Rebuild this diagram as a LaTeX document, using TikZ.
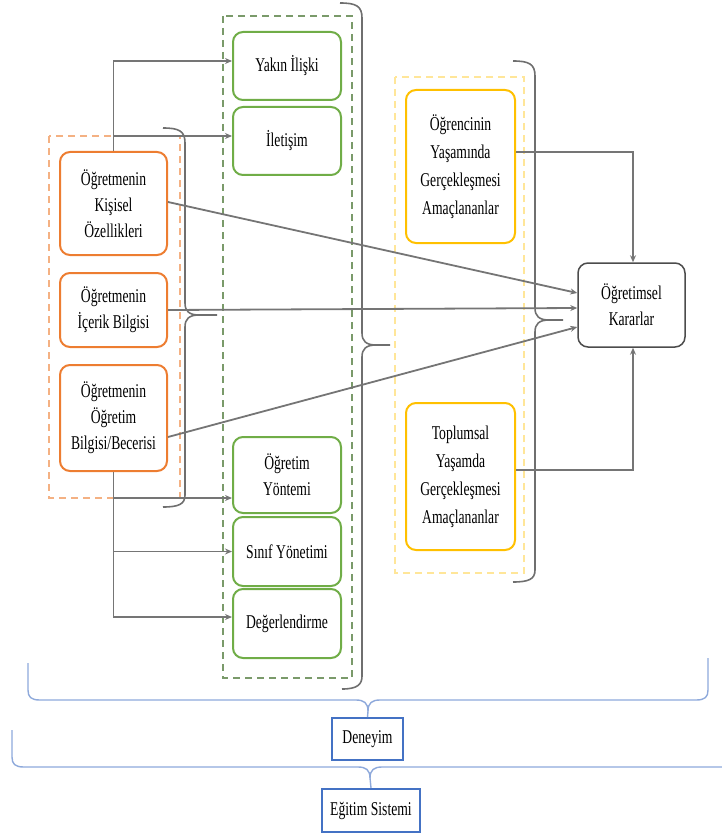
\documentclass[tikz,border=0pt]{standalone}
\usepackage{fontspec}
\setmainfont{Liberation Serif}[FakeStretch=0.7]
\usetikzlibrary{arrows.meta}
\definecolor{corange}{HTML}{ED7D31}
\definecolor{cgreen}{HTML}{70AD47}
\definecolor{cyellow}{HTML}{FFC000}
\definecolor{dorange}{HTML}{F4B183}
\definecolor{dgreen}{HTML}{7A9A6A}
\definecolor{dyellow}{HTML}{FFE699}
\definecolor{lgray}{HTML}{757575}
\definecolor{bgray}{HTML}{6F6F6F}
\definecolor{bblue}{HTML}{8EA9DB}
\definecolor{cblue}{HTML}{4472C4}
\begin{document}
\begin{tikzpicture}[x=1pt,y=-1pt,
  font=\fontsize{19.5}{26}\selectfont,
  box/.style={draw, rounded corners=10pt, line width=2pt, fill=white, align=center, inner sep=0pt},
  obox/.style={box, draw=corange, minimum width=107pt},
  gbox/.style={box, draw=cgreen, minimum width=108pt},
  ybox/.style={box, draw=cyellow, minimum width=109pt, font=\fontsize{19.5}{28}\selectfont},
  kbox/.style={box, draw=black!70, line width=1.5pt, minimum width=107pt, minimum height=84pt},
  sbox/.style={draw=cblue, line width=2pt, fill=white, inner sep=0pt},
  dbox/.style={line width=1.5pt, dash pattern=on 7pt off 5pt},
  arr/.style={draw=lgray, line width=1.8pt, -{Stealth[length=7pt,width=6pt]}},
  brace/.style={draw=bgray, line width=1.6pt},
  bbrace/.style={draw=bblue, line width=1.4pt}]
\useasboundingbox (0,0) rectangle (722,837);

% dashed groups
\draw[dbox, draw=dorange] (49,136) rectangle (180,498);
\draw[dbox, draw=dgreen] (223,16) rectangle (352,678);
\draw[dbox, draw=dyellow] (395,77) rectangle (524,573);

% orange nodes
\node[obox, minimum height=103pt] (ok) at (113.5,203.5) {Öğretmenin\\Kişisel\\Özellikleri};
\node[obox, minimum height=74pt] (oi) at (113.5,310) {Öğretmenin\\İçerik Bilgisi};
\node[obox, minimum height=106pt] (ob) at (113.5,418) {Öğretmenin\\Öğretim\\Bilgisi/Becerisi};

% green nodes
\node[gbox, minimum height=68pt] (g1) at (287,66) {Yakın İlişki};
\node[gbox, minimum height=68pt] (g2) at (287,141) {İletişim};
\node[gbox, minimum height=76pt] (g3) at (287,475) {Öğretim\\Yöntemi};
\node[gbox, minimum height=69pt] (g4) at (287,551.5) {Sınıf Yönetimi};
\node[gbox, minimum height=69pt] (g5) at (287,623.5) {Değerlendirme};

% yellow nodes
\node[ybox, minimum height=153pt] (y1) at (460.5,166.5) {Öğrencinin\\Yaşamında\\Gerçekleşmesi\\Amaçlananlar};
\node[ybox, minimum height=147pt] (y2) at (460.5,476.5) {Toplumsal\\Yaşamda\\Gerçekleşmesi\\Amaçlananlar};

% decision node
\node[kbox] (kk) at (631.5,305) {Öğretimsel\\Kararlar};

% bottom nodes
\node[sbox, minimum width=71pt, minimum height=42pt] (den) at (367.5,739) {Deneyim};
\node[sbox, minimum width=98pt, minimum height=43pt] (egt) at (371,810.5) {Eğitim Sistemi};

% braces
\draw[brace] (340,3) .. controls (356,3) and (362,6) .. (362,18) -- (362,333)
  .. controls (362,341) and (366,345) .. (376,345) -- (390,345);
\draw[brace] (376,345) .. controls (366,345) and (362,349) .. (362,357) -- (362,676)
  .. controls (362,684) and (358,689) .. (342,689);
\draw[brace] (163,128) .. controls (179,128) and (185,131) .. (185,143) -- (185,303)
  .. controls (185,311) and (189,315) .. (199,315) -- (217,315);
\draw[brace] (199,315) .. controls (189,315) and (185,319) .. (185,327) -- (185,495)
  .. controls (185,504) and (179,507) .. (163,507);
\draw[brace] (513,61) .. controls (529,61) and (535,64) .. (535,76) -- (535,308)
  .. controls (535,316) and (539,320) .. (549,320) -- (563,320);
\draw[brace] (549,320) .. controls (539,320) and (535,324) .. (535,332) -- (535,570)
  .. controls (535,579) and (529,582) .. (513,582);

\draw[bbrace] (28,663) -- (28,690) .. controls (28,697) and (31,700) .. (40,700) -- (356,700)
  .. controls (364,700) and (368,703) .. (368,711) -- (den.north);
\draw[bbrace] (708,658) -- (708,690) .. controls (708,697) and (705,700) .. (696,700) -- (380,700)
  .. controls (372,700) and (368,703) .. (368,711);
\draw[bbrace] (12,730) -- (12,757) .. controls (12,764) and (15,767) .. (24,767) -- (358,767)
  .. controls (366,767) and (370,770) .. (370,778) -- (egt.north);
\draw[bbrace] (722,767) -- (382,767) .. controls (374,767) and (370,770) .. (370,778);

% connectors from personal characteristics
\coordinate (k1) at ([yshift=5pt]g1.west);
\coordinate (k2) at ([yshift=5pt]g2.west);
\draw[arr] (ok.north) |- (k1);
\draw[arr] (k2 -| ok.north) -- (k2);

% connectors from teaching knowledge
\coordinate (m3) at ([yshift=-23pt]g3.west);
\coordinate (m4) at (g4.west);
\coordinate (m5) at ([yshift=6.5pt]g5.west);
\draw[arr] (ob.south) |- (m5);
\draw[arr] (m3 -| ob.south) -- (m3);
\draw[arr] (m4 -| ob.south) -- (m4);

% connectors to decisions
\draw[arr] ([yshift=1.5pt]ok.east) -- ([yshift=12pt]kk.west);
\draw[arr] (oi.east) -- ([yshift=-3pt]kk.west);
\draw[arr] ([yshift=-19pt]ob.east) -- ([yshift=-22pt]kk.west);
\draw[arr] ([yshift=14.5pt]y1.east) -| ([xshift=1.5pt]kk.north);
\draw[arr] ([yshift=6.5pt]y2.east) -| ([xshift=1.5pt]kk.south);
\end{tikzpicture}
\end{document}
